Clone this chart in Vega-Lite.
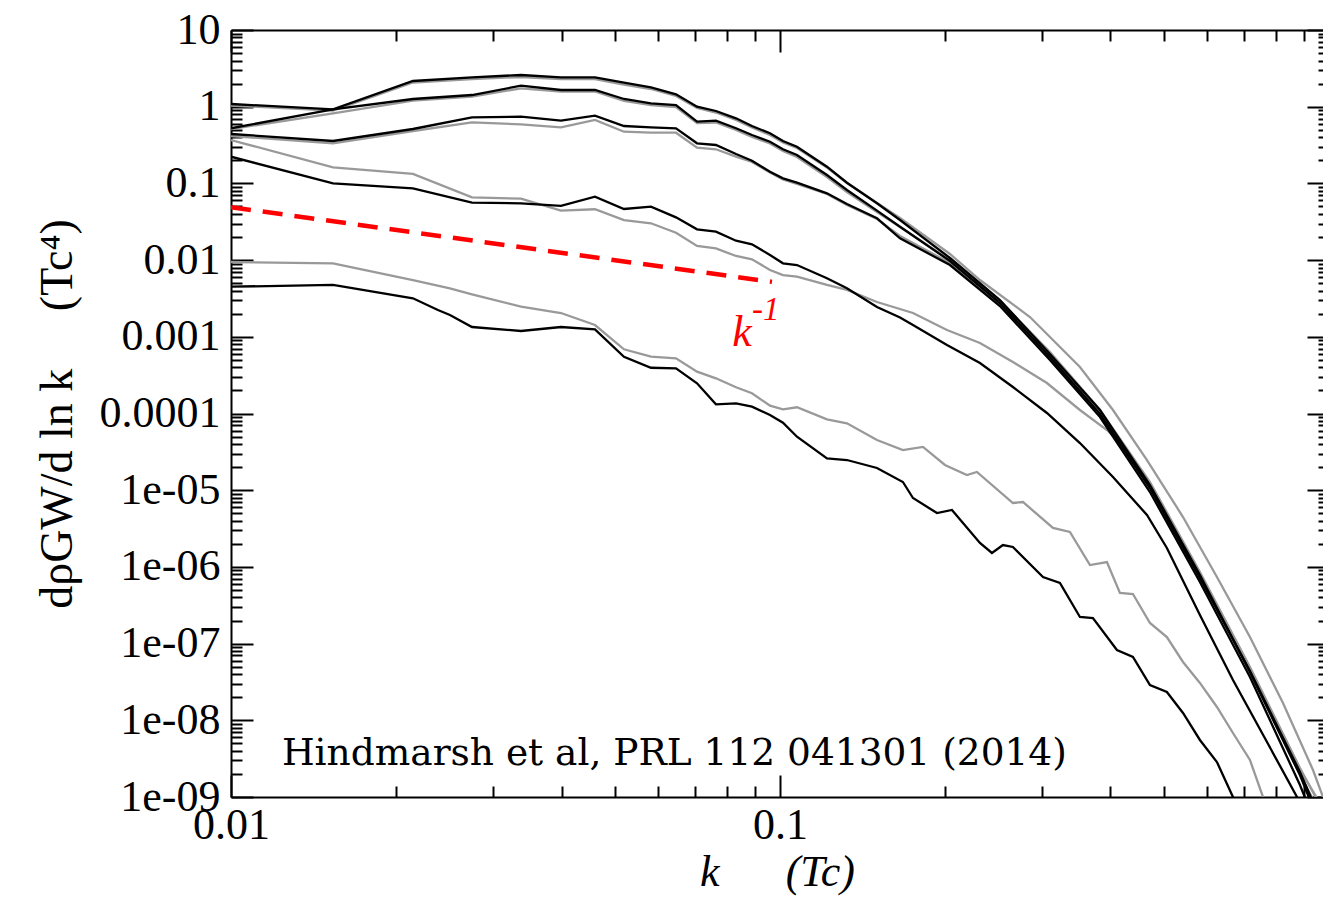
{
  "$schema": "https://vega.github.io/schema/vega-lite/v6.json",
  "width": 1092,
  "height": 767,
  "autosize": {"type": "none"},
  "padding": {"left": 231, "top": 30, "right": 0, "bottom": 102},
  "background": "white",
  "config": {"view": {"stroke": null}, "font": "Liberation Serif"},
  "datasets": {
    "curves": [
      {"series":"A-black","shade":"black","k":0.01,"rho":1.084},{"series":"A-black","shade":"black","k":0.01534,"rho":0.925},{"series":"A-black","shade":"black","k":0.02145,"rho":2.163},{"series":"A-black","shade":"black","k":0.02748,"rho":2.417},{"series":"A-black","shade":"black","k":0.03375,"rho":2.59},{"series":"A-black","shade":"black","k":0.03991,"rho":2.417},{"series":"A-black","shade":"black","k":0.04603,"rho":2.417},{"series":"A-black","shade":"black","k":0.05198,"rho":2.055},{"series":"A-black","shade":"black","k":0.05821,"rho":1.79},{"series":"A-black","shade":"black","k":0.06466,"rho":1.451},{"series":"A-black","shade":"black","k":0.07062,"rho":1.0},{"series":"A-black","shade":"black","k":0.07645,"rho":0.879},{"series":"A-black","shade":"black","k":0.08317,"rho":0.706},{"series":"A-black","shade":"black","k":0.08892,"rho":0.56},{"series":"A-black","shade":"black","k":0.0959,"rho":0.45},{"series":"A-black","shade":"black","k":0.10127,"rho":0.357},{"series":"A-black","shade":"black","k":0.10739,"rho":0.301},{"series":"A-black","shade":"black","k":0.1218,"rho":0.165},{"series":"A-black","shade":"black","k":0.13244,"rho":0.1021},{"series":"A-black","shade":"black","k":0.15022,"rho":0.055},{"series":"A-black","shade":"black","k":0.16546,"rho":0.0333},{"series":"A-black","shade":"black","k":0.20403,"rho":0.01065},{"series":"A-black","shade":"black","k":0.25159,"rho":0.003018},{"series":"A-black","shade":"black","k":0.31031,"rho":5.965e-4},{"series":"A-black","shade":"black","k":0.38282,"rho":1.111e-4},{"series":"A-black","shade":"black","k":0.47206,"rho":1.169e-5},{"series":"A-black","shade":"black","k":0.5821,"rho":7.84e-7},{"series":"A-black","shade":"black","k":0.71802,"rho":4.26e-8},{"series":"A-black","shade":"black","k":0.8856,"rho":1.935e-9},{"series":"A-black","shade":"black","k":0.96317,"rho":4.31e-10},
      {"series":"B-black","shade":"black","k":0.01,"rho":0.523},{"series":"B-black","shade":"black","k":0.01534,"rho":0.925},{"series":"B-black","shade":"black","k":0.02145,"rho":1.26},{"series":"B-black","shade":"black","k":0.02748,"rho":1.42},{"series":"B-black","shade":"black","k":0.03375,"rho":1.878},{"series":"B-black","shade":"black","k":0.03991,"rho":1.651},{"series":"B-black","shade":"black","k":0.04603,"rho":1.651},{"series":"B-black","shade":"black","k":0.05198,"rho":1.26},{"series":"B-black","shade":"black","k":0.05821,"rho":1.107},{"series":"B-black","shade":"black","k":0.06466,"rho":1.052},{"series":"B-black","shade":"black","k":0.07062,"rho":0.638},{"series":"B-black","shade":"black","k":0.07645,"rho":0.657},{"series":"B-black","shade":"black","k":0.08317,"rho":0.523},{"series":"B-black","shade":"black","k":0.08892,"rho":0.428},{"series":"B-black","shade":"black","k":0.0959,"rho":0.35},{"series":"B-black","shade":"black","k":0.10127,"rho":0.2784},{"series":"B-black","shade":"black","k":0.10739,"rho":0.2346},{"series":"B-black","shade":"black","k":0.1218,"rho":0.1287},{"series":"B-black","shade":"black","k":0.13244,"rho":0.082},{"series":"B-black","shade":"black","k":0.15022,"rho":0.0441},{"series":"B-black","shade":"black","k":0.16546,"rho":0.02726},{"series":"B-black","shade":"black","k":0.20403,"rho":0.00973},{"series":"B-black","shade":"black","k":0.25159,"rho":0.002758},{"series":"B-black","shade":"black","k":0.31031,"rho":5.453e-4},{"series":"B-black","shade":"black","k":0.38282,"rho":9.85e-5},{"series":"B-black","shade":"black","k":0.47206,"rho":1.068e-5},{"series":"B-black","shade":"black","k":0.5821,"rho":7.17e-7},{"series":"B-black","shade":"black","k":0.71802,"rho":4.39e-8},{"series":"B-black","shade":"black","k":0.8856,"rho":2.118e-9},{"series":"B-black","shade":"black","k":0.96317,"rho":5.32e-10},
      {"series":"C-black","shade":"black","k":0.01,"rho":0.4406},{"series":"C-black","shade":"black","k":0.01534,"rho":0.357},{"series":"C-black","shade":"black","k":0.02145,"rho":0.512},{"series":"C-black","shade":"black","k":0.02748,"rho":0.727},{"series":"C-black","shade":"black","k":0.03375,"rho":0.741},{"series":"C-black","shade":"black","k":0.03991,"rho":0.657},{"series":"C-black","shade":"black","k":0.04603,"rho":0.763},{"series":"C-black","shade":"black","k":0.05198,"rho":0.56},{"series":"C-black","shade":"black","k":0.05821,"rho":0.539},{"series":"C-black","shade":"black","k":0.06466,"rho":0.523},{"series":"C-black","shade":"black","k":0.07062,"rho":0.3333},{"series":"C-black","shade":"black","k":0.07645,"rho":0.3167},{"series":"C-black","shade":"black","k":0.08317,"rho":0.2416},{"series":"C-black","shade":"black","k":0.08892,"rho":0.1977},{"series":"C-black","shade":"black","k":0.0959,"rho":0.1421},{"series":"C-black","shade":"black","k":0.10127,"rho":0.1165},{"series":"C-black","shade":"black","k":0.10739,"rho":0.1021},{"series":"C-black","shade":"black","k":0.1218,"rho":0.0743},{"series":"C-black","shade":"black","k":0.13244,"rho":0.0539},{"series":"C-black","shade":"black","k":0.15022,"rho":0.0351},{"series":"C-black","shade":"black","k":0.16546,"rho":0.01924},{"series":"C-black","shade":"black","k":0.20403,"rho":0.00863},{"series":"C-black","shade":"black","k":0.25159,"rho":0.002521},{"series":"C-black","shade":"black","k":0.31031,"rho":4.98e-4},{"series":"C-black","shade":"black","k":0.38282,"rho":9.0e-5},{"series":"C-black","shade":"black","k":0.47206,"rho":9.47e-6},{"series":"C-black","shade":"black","k":0.5821,"rho":6.36e-7},{"series":"C-black","shade":"black","k":0.71802,"rho":3.67e-8},{"series":"C-black","shade":"black","k":0.8856,"rho":1.434e-9},{"series":"C-black","shade":"black","k":0.96317,"rho":3.2e-10},
      {"series":"A-gray","shade":"gray","k":0.01,"rho":1.036},{"series":"A-gray","shade":"gray","k":0.01534,"rho":0.892},{"series":"A-gray","shade":"gray","k":0.02145,"rho":2.068},{"series":"A-gray","shade":"gray","k":0.02748,"rho":2.297},{"series":"A-gray","shade":"gray","k":0.03375,"rho":2.439},{"series":"A-gray","shade":"gray","k":0.03991,"rho":2.297},{"series":"A-gray","shade":"gray","k":0.04603,"rho":2.297},{"series":"A-gray","shade":"gray","k":0.05198,"rho":1.947},{"series":"A-gray","shade":"gray","k":0.05821,"rho":1.701},{"series":"A-gray","shade":"gray","k":0.06466,"rho":1.379},{"series":"A-gray","shade":"gray","k":0.07062,"rho":0.962},{"series":"A-gray","shade":"gray","k":0.07645,"rho":0.84},{"series":"A-gray","shade":"gray","k":0.08317,"rho":0.671},{"series":"A-gray","shade":"gray","k":0.08892,"rho":0.536},{"series":"A-gray","shade":"gray","k":0.0959,"rho":0.428},{"series":"A-gray","shade":"gray","k":0.10127,"rho":0.3412},{"series":"A-gray","shade":"gray","k":0.10739,"rho":0.2894},{"series":"A-gray","shade":"gray","k":0.1218,"rho":0.1612},{"series":"A-gray","shade":"gray","k":0.13244,"rho":0.1012},{"series":"A-gray","shade":"gray","k":0.15022,"rho":0.0555},{"series":"A-gray","shade":"gray","k":0.16546,"rho":0.0354},{"series":"A-gray","shade":"gray","k":0.20403,"rho":0.01201},{"series":"A-gray","shade":"gray","k":0.23136,"rho":0.0055},{"series":"A-gray","shade":"gray","k":0.28536,"rho":0.001812},{"series":"A-gray","shade":"gray","k":0.3519,"rho":4.04e-4},{"series":"A-gray","shade":"gray","k":0.40423,"rho":1.111e-4},{"series":"A-gray","shade":"gray","k":0.4662,"rho":2.475e-5},{"series":"A-gray","shade":"gray","k":0.54225,"rho":4.47e-6},{"series":"A-gray","shade":"gray","k":0.62517,"rho":7.38e-7},{"series":"A-gray","shade":"gray","k":0.71802,"rho":1.219e-7},{"series":"A-gray","shade":"gray","k":0.82472,"rho":1.68e-8},{"series":"A-gray","shade":"gray","k":0.93534,"rho":2.249e-9},{"series":"A-gray","shade":"gray","k":0.97545,"rho":1e-9},
      {"series":"B-gray","shade":"gray","k":0.01,"rho":0.512},{"series":"B-gray","shade":"gray","k":0.01534,"rho":0.82},{"series":"B-gray","shade":"gray","k":0.02145,"rho":1.197},{"series":"B-gray","shade":"gray","k":0.02748,"rho":1.35},{"series":"B-gray","shade":"gray","k":0.03375,"rho":1.738},{"series":"B-gray","shade":"gray","k":0.03991,"rho":1.578},{"series":"B-gray","shade":"gray","k":0.04603,"rho":1.578},{"series":"B-gray","shade":"gray","k":0.05198,"rho":1.187},{"series":"B-gray","shade":"gray","k":0.05821,"rho":1.052},{"series":"B-gray","shade":"gray","k":0.06466,"rho":0.991},{"series":"B-gray","shade":"gray","k":0.07062,"rho":0.613},{"series":"B-gray","shade":"gray","k":0.07645,"rho":0.622},{"series":"B-gray","shade":"gray","k":0.08317,"rho":0.497},{"series":"B-gray","shade":"gray","k":0.08892,"rho":0.403},{"series":"B-gray","shade":"gray","k":0.0959,"rho":0.3313},{"series":"B-gray","shade":"gray","k":0.10127,"rho":0.2645},{"series":"B-gray","shade":"gray","k":0.10739,"rho":0.2209},{"series":"B-gray","shade":"gray","k":0.1218,"rho":0.1211},{"series":"B-gray","shade":"gray","k":0.13244,"rho":0.0772},{"series":"B-gray","shade":"gray","k":0.15022,"rho":0.0424},{"series":"B-gray","shade":"gray","k":0.16546,"rho":0.027},{"series":"B-gray","shade":"gray","k":0.20403,"rho":0.01003},{"series":"B-gray","shade":"gray","k":0.25159,"rho":0.00293},{"series":"B-gray","shade":"gray","k":0.31031,"rho":6.33e-4},{"series":"B-gray","shade":"gray","k":0.38282,"rho":1.111e-4},{"series":"B-gray","shade":"gray","k":0.47206,"rho":1.279e-5},{"series":"B-gray","shade":"gray","k":0.5821,"rho":8.58e-7},{"series":"B-gray","shade":"gray","k":0.71802,"rho":4.95e-8},{"series":"B-gray","shade":"gray","k":0.8856,"rho":2.39e-9},{"series":"B-gray","shade":"gray","k":0.96317,"rho":7.87e-10},
      {"series":"C-gray","shade":"gray","k":0.01,"rho":0.415},{"series":"C-gray","shade":"gray","k":0.01534,"rho":0.3333},{"series":"C-gray","shade":"gray","k":0.02145,"rho":0.482},{"series":"C-gray","shade":"gray","k":0.02748,"rho":0.626},{"series":"C-gray","shade":"gray","k":0.03375,"rho":0.589},{"series":"C-gray","shade":"gray","k":0.03991,"rho":0.539},{"series":"C-gray","shade":"gray","k":0.04603,"rho":0.671},{"series":"C-gray","shade":"gray","k":0.05198,"rho":0.472},{"series":"C-gray","shade":"gray","k":0.05821,"rho":0.458},{"series":"C-gray","shade":"gray","k":0.06466,"rho":0.458},{"series":"C-gray","shade":"gray","k":0.07062,"rho":0.292},{"series":"C-gray","shade":"gray","k":0.07645,"rho":0.2784},{"series":"C-gray","shade":"gray","k":0.08317,"rho":0.2229},{"series":"C-gray","shade":"gray","k":0.08892,"rho":0.1901},{"series":"C-gray","shade":"gray","k":0.0959,"rho":0.1388},{"series":"C-gray","shade":"gray","k":0.10127,"rho":0.1124},{"series":"C-gray","shade":"gray","k":0.10739,"rho":0.0982},{"series":"C-gray","shade":"gray","k":0.1218,"rho":0.0728},{"series":"C-gray","shade":"gray","k":0.13244,"rho":0.0523},{"series":"C-gray","shade":"gray","k":0.15022,"rho":0.0344},{"series":"C-gray","shade":"gray","k":0.16546,"rho":0.0206},{"series":"C-gray","shade":"gray","k":0.20403,"rho":0.00917},{"series":"C-gray","shade":"gray","k":0.25159,"rho":0.002677},{"series":"C-gray","shade":"gray","k":0.31031,"rho":5.453e-4},{"series":"C-gray","shade":"gray","k":0.38282,"rho":1.015e-4},{"series":"C-gray","shade":"gray","k":0.47206,"rho":1.101e-5},{"series":"C-gray","shade":"gray","k":0.5821,"rho":7.38e-7},{"series":"C-gray","shade":"gray","k":0.71802,"rho":4.26e-8},{"series":"C-gray","shade":"gray","k":0.8856,"rho":1.935e-9},{"series":"C-gray","shade":"gray","k":0.96317,"rho":6.37e-10},
      {"series":"D-gray","shade":"gray","k":0.01,"rho":0.368},{"series":"D-gray","shade":"gray","k":0.01534,"rho":0.1622},{"series":"D-gray","shade":"gray","k":0.02145,"rho":0.1327},{"series":"D-gray","shade":"gray","k":0.02748,"rho":0.0659},{"series":"D-gray","shade":"gray","k":0.03375,"rho":0.0632},{"series":"D-gray","shade":"gray","k":0.03991,"rho":0.0441},{"series":"D-gray","shade":"gray","k":0.04603,"rho":0.046},{"series":"D-gray","shade":"gray","k":0.05198,"rho":0.0333},{"series":"D-gray","shade":"gray","k":0.05821,"rho":0.0302},{"series":"D-gray","shade":"gray","k":0.06466,"rho":0.02277},{"series":"D-gray","shade":"gray","k":0.07062,"rho":0.01527},{"series":"D-gray","shade":"gray","k":0.07645,"rho":0.01425},{"series":"D-gray","shade":"gray","k":0.08317,"rho":0.01131},{"series":"D-gray","shade":"gray","k":0.08892,"rho":0.01024},{"series":"D-gray","shade":"gray","k":0.0959,"rho":0.00743},{"series":"D-gray","shade":"gray","k":0.10127,"rho":0.00639},{"series":"D-gray","shade":"gray","k":0.10739,"rho":0.00607},{"series":"D-gray","shade":"gray","k":0.1218,"rho":0.00474},{"series":"D-gray","shade":"gray","k":0.13244,"rho":0.00408},{"series":"D-gray","shade":"gray","k":0.15022,"rho":0.002843},{"series":"D-gray","shade":"gray","k":0.1747,"rho":0.002043},{"series":"D-gray","shade":"gray","k":0.20148,"rho":0.001227},{"series":"D-gray","shade":"gray","k":0.23136,"rho":8.3e-4},{"series":"D-gray","shade":"gray","k":0.26568,"rho":4.69e-4},{"series":"D-gray","shade":"gray","k":0.30643,"rho":2.498e-4},{"series":"D-gray","shade":"gray","k":0.3519,"rho":1.111e-4},{"series":"D-gray","shade":"gray","k":0.39409,"rho":6.09e-5},{"series":"D-gray","shade":"gray","k":0.4162,"rho":4.12e-5},{"series":"D-gray","shade":"gray","k":0.47206,"rho":1.101e-5},{"series":"D-gray","shade":"gray","k":0.5821,"rho":7.38e-7},{"series":"D-gray","shade":"gray","k":0.71802,"rho":4.52e-8},{"series":"D-gray","shade":"gray","k":0.8856,"rho":2.249e-9},{"series":"D-gray","shade":"gray","k":0.96317,"rho":8.35e-10},
      {"series":"D-black","shade":"black","k":0.01,"rho":0.2229},{"series":"D-black","shade":"black","k":0.01534,"rho":0.1003},{"series":"D-black","shade":"black","k":0.02145,"rho":0.0863},{"series":"D-black","shade":"black","k":0.02748,"rho":0.056},{"series":"D-black","shade":"black","k":0.03375,"rho":0.055},{"series":"D-black","shade":"black","k":0.03991,"rho":0.051},{"series":"D-black","shade":"black","k":0.04603,"rho":0.0671},{"series":"D-black","shade":"black","k":0.05198,"rho":0.0464},{"series":"D-black","shade":"black","k":0.05821,"rho":0.0497},{"series":"D-black","shade":"black","k":0.06466,"rho":0.0361},{"series":"D-black","shade":"black","k":0.07062,"rho":0.02521},{"series":"D-black","shade":"black","k":0.07645,"rho":0.02346},{"series":"D-black","shade":"black","k":0.08317,"rho":0.0179},{"series":"D-black","shade":"black","k":0.08892,"rho":0.01607},{"series":"D-black","shade":"black","k":0.0959,"rho":0.01165},{"series":"D-black","shade":"black","k":0.10127,"rho":0.00909},{"series":"D-black","shade":"black","k":0.10739,"rho":0.00863},{"series":"D-black","shade":"black","k":0.1218,"rho":0.00579},{"series":"D-black","shade":"black","k":0.13244,"rho":0.00429},{"series":"D-black","shade":"black","k":0.15022,"rho":0.002446},{"series":"D-black","shade":"black","k":0.16546,"rho":0.001785},{"series":"D-black","shade":"black","k":0.1747,"rho":0.001425},{"series":"D-black","shade":"black","k":0.20148,"rho":7.82e-4},{"series":"D-black","shade":"black","k":0.23136,"rho":4.55e-4},{"series":"D-black","shade":"black","k":0.26568,"rho":2.215e-4},{"series":"D-black","shade":"black","k":0.30643,"rho":1.015e-4},{"series":"D-black","shade":"black","k":0.3519,"rho":4.12e-5},{"series":"D-black","shade":"black","k":0.40423,"rho":1.487e-5},{"series":"D-black","shade":"black","k":0.4662,"rho":4.75e-6},{"series":"D-black","shade":"black","k":0.50677,"rho":1.764e-6},{"series":"D-black","shade":"black","k":0.5821,"rho":2.36e-7},{"series":"D-black","shade":"black","k":0.66865,"rho":3.35e-8},{"series":"D-black","shade":"black","k":0.77124,"rho":5.21e-9},{"series":"D-black","shade":"black","k":0.87453,"rho":1e-9},{"series":"D-black","shade":"black","k":0.92,"rho":3.2e-10},
      {"series":"E-gray","shade":"gray","k":0.01,"rho":0.00945},{"series":"E-gray","shade":"gray","k":0.01534,"rho":0.00909},{"series":"E-gray","shade":"gray","k":0.02145,"rho":0.0055},{"series":"E-gray","shade":"gray","k":0.02505,"rho":0.00429},{"series":"E-gray","shade":"gray","k":0.02748,"rho":0.00358},{"series":"E-gray","shade":"gray","k":0.03375,"rho":0.00247},{"series":"E-gray","shade":"gray","k":0.03991,"rho":0.002043},{"series":"E-gray","shade":"gray","k":0.04603,"rho":0.001425},{"series":"E-gray","shade":"gray","k":0.05198,"rho":6.87e-4},{"series":"E-gray","shade":"gray","k":0.05821,"rho":5.5e-4},{"series":"E-gray","shade":"gray","k":0.06466,"rho":5.24e-4},{"series":"E-gray","shade":"gray","k":0.07062,"rho":3.51e-4},{"series":"E-gray","shade":"gray","k":0.07645,"rho":2.877e-4},{"series":"E-gray","shade":"gray","k":0.08317,"rho":2.196e-4},{"series":"E-gray","shade":"gray","k":0.08892,"rho":1.834e-4},{"series":"E-gray","shade":"gray","k":0.0959,"rho":1.264e-4},{"series":"E-gray","shade":"gray","k":0.10127,"rho":1.135e-4},{"series":"E-gray","shade":"gray","k":0.10739,"rho":1.205e-4},{"series":"E-gray","shade":"gray","k":0.1218,"rho":8.4e-5},{"series":"E-gray","shade":"gray","k":0.13244,"rho":7.45e-5},{"series":"E-gray","shade":"gray","k":0.15022,"rho":4.51e-5},{"series":"E-gray","shade":"gray","k":0.16749,"rho":3.34e-5},{"series":"E-gray","shade":"gray","k":0.18218,"rho":3.66e-5},{"series":"E-gray","shade":"gray","k":0.19978,"rho":2.132e-5},{"series":"E-gray","shade":"gray","k":0.21903,"rho":1.578e-5},{"series":"E-gray","shade":"gray","k":0.22845,"rho":1.727e-5},{"series":"E-gray","shade":"gray","k":0.26568,"rho":6.81e-6},{"series":"E-gray","shade":"gray","k":0.27708,"rho":7.02e-6},{"series":"E-gray","shade":"gray","k":0.3143,"rho":3.22e-6},{"series":"E-gray","shade":"gray","k":0.33744,"rho":2.851e-6},{"series":"E-gray","shade":"gray","k":0.36702,"rho":1.058e-6},{"series":"E-gray","shade":"gray","k":0.39409,"rho":1.158e-6},{"series":"E-gray","shade":"gray","k":0.4162,"rho":4.57e-7},{"series":"E-gray","shade":"gray","k":0.43954,"rho":4.43e-7},{"series":"E-gray","shade":"gray","k":0.47206,"rho":1.856e-7},{"series":"E-gray","shade":"gray","k":0.50677,"rho":1.219e-7},{"series":"E-gray","shade":"gray","k":0.54225,"rho":5.76e-8},{"series":"E-gray","shade":"gray","k":0.5821,"rho":3.07e-8},{"series":"E-gray","shade":"gray","k":0.62517,"rho":1.491e-8},{"series":"E-gray","shade":"gray","k":0.66865,"rho":6.83e-9},{"series":"E-gray","shade":"gray","k":0.71802,"rho":3.04e-9},{"series":"E-gray","shade":"gray","k":0.75836,"rho":1e-9},{"series":"E-gray","shade":"gray","k":0.81434,"rho":2.75e-10},
      {"series":"E-black","shade":"black","k":0.01,"rho":0.0045},{"series":"E-black","shade":"black","k":0.01534,"rho":0.00474},{"series":"E-black","shade":"black","k":0.02145,"rho":0.003178},{"series":"E-black","shade":"black","k":0.02382,"rho":0.002236},{"series":"E-black","shade":"black","k":0.02505,"rho":0.001924},{"series":"E-black","shade":"black","k":0.02748,"rho":0.001342},{"series":"E-black","shade":"black","k":0.03375,"rho":0.00119},{"series":"E-black","shade":"black","k":0.03991,"rho":0.001342},{"series":"E-black","shade":"black","k":0.04603,"rho":0.001252},{"series":"E-black","shade":"black","k":0.05198,"rho":5.5e-4},{"series":"E-black","shade":"black","k":0.05821,"rho":3.95e-4},{"series":"E-black","shade":"black","k":0.06466,"rho":3.88e-4},{"series":"E-black","shade":"black","k":0.07062,"rho":2.475e-4},{"series":"E-black","shade":"black","k":0.07645,"rho":1.318e-4},{"series":"E-black","shade":"black","k":0.08317,"rho":1.358e-4},{"series":"E-black","shade":"black","k":0.08892,"rho":1.227e-4},{"series":"E-black","shade":"black","k":0.0959,"rho":9.56e-5},{"series":"E-black","shade":"black","k":0.10127,"rho":7.59e-5},{"series":"E-black","shade":"black","k":0.10739,"rho":4.98e-5},{"series":"E-black","shade":"black","k":0.1218,"rho":2.604e-5},{"series":"E-black","shade":"black","k":0.13244,"rho":2.475e-5},{"series":"E-black","shade":"black","k":0.15022,"rho":1.949e-5},{"series":"E-black","shade":"black","k":0.16749,"rho":1.279e-5},{"series":"E-black","shade":"black","k":0.1747,"rho":7.91e-6},{"series":"E-black","shade":"black","k":0.1932,"rho":5.04e-6},{"series":"E-black","shade":"black","k":0.20574,"rho":5.52e-6},{"series":"E-black","shade":"black","k":0.23136,"rho":2.05e-6},{"series":"E-black","shade":"black","k":0.2433,"rho":1.518e-6},{"series":"E-black","shade":"black","k":0.25478,"rho":1.929e-6},{"series":"E-black","shade":"black","k":0.26568,"rho":1.818e-6},{"series":"E-black","shade":"black","k":0.3014,"rho":7.38e-7},{"series":"E-black","shade":"black","k":0.32359,"rho":6.17e-7},{"series":"E-black","shade":"black","k":0.3519,"rho":2.222e-7},{"series":"E-black","shade":"black","k":0.37163,"rho":2.157e-7},{"series":"E-black","shade":"black","k":0.41098,"rho":8.25e-8},{"series":"E-black","shade":"black","k":0.43954,"rho":6.69e-8},{"series":"E-black","shade":"black","k":0.47206,"rho":2.884e-8},{"series":"E-black","shade":"black","k":0.50677,"rho":2.339e-8},{"series":"E-black","shade":"black","k":0.54225,"rho":1.245e-8},{"series":"E-black","shade":"black","k":0.5821,"rho":5.54e-9},{"series":"E-black","shade":"black","k":0.62517,"rho":2.86e-9},{"series":"E-black","shade":"black","k":0.66865,"rho":1e-9},{"series":"E-black","shade":"black","k":0.71802,"rho":3.2e-10}
    ],
    "slope": [{"k": 0.01, "rho": 0.049}, {"k": 0.0967, "rho": 0.0052}],
    "notes": [{"label": "k", "k": 0.0853, "rho": 0.00076}, {"label": "-1", "k": 0.0889, "rho": 0.00166}, {"label": "Hindmarsh et al, PRL 112 041301 (2014)", "k": 0.01238, "rho": 2.61e-9}]
  },
  "layer": [
    {
      "data": {"name": "curves"},
      "transform": [{"filter": "datum.shade === 'gray'"}],
      "mark": {"type": "line", "stroke": "#999999", "strokeWidth": 2.3, "clip": true},
      "encoding": {
        "x": {"field": "k", "type": "quantitative", "scale": {"type": "log", "domain": [0.01, 0.97545], "nice": false},
          "axis": {"orient": "bottom", "values": [0.01, 0.1], "format": "~g", "ticks": false, "domain": false, "grid": false,
            "labelFont": "Liberation Serif", "labelFontSize": 44, "labelColor": "black", "labelPadding": 6, "labelFlush": false, "labelOverlap": false,
            "title": "k\u00a0\u00a0\u00a0\u00a0\u00a0\u00a0(Tc)", "titleFont": "Liberation Serif", "titleFontSize": 44, "titleFontWeight": "normal", "titleFontStyle": "italic", "titleColor": "black", "titlePadding": 3}},
        "y": {"field": "rho", "type": "quantitative", "scale": {"type": "log", "domain": [1e-9, 10], "nice": false},
          "axis": {"orient": "left", "values": [10, 1, 0.1, 0.01, 0.001, 0.0001, 1e-5, 1e-6, 1e-7, 1e-8, 1e-9], "ticks": false, "domain": false, "grid": false,
            "labelExpr": "datum.value < 5e-5 ? '1e-0' + format(-log(datum.value)/LN10, '.0f') : format(datum.value, '~g')",
            "labelFont": "Liberation Serif", "labelFontSize": 44, "labelColor": "black", "labelPadding": 11, "labelFlush": false, "labelOverlap": false,
            "title": "dρGW/d ln k\u00a0\u00a0\u00a0\u00a0\u00a0(Tc⁴)", "titleFont": "Liberation Serif", "titleFontSize": 46, "titleFontWeight": "normal", "titleColor": "black", "titlePadding": 18}},
        "detail": {"field": "series"}
      }
    },
    {
      "data": {"name": "curves"},
      "transform": [{"filter": "datum.shade === 'black'"}],
      "mark": {"type": "line", "stroke": "black", "strokeWidth": 2.3, "clip": true},
      "encoding": {
        "x": {"field": "k", "type": "quantitative", "scale": {"type": "log", "domain": [0.01, 0.97545], "nice": false}, "axis": null},
        "y": {"field": "rho", "type": "quantitative", "scale": {"type": "log", "domain": [1e-9, 10], "nice": false}, "axis": null},
        "detail": {"field": "series"}
      }
    },
    {
      "data": {"name": "slope"},
      "mark": {"type": "line", "stroke": "#ff0000", "strokeWidth": 4.5, "strokeDash": [20, 12], "clip": true},
      "encoding": {
        "x": {"field": "k", "type": "quantitative", "scale": {"type": "log", "domain": [0.01, 0.97545], "nice": false},
          "axis": {"orient": "bottom", "values": [0.01, 0.1], "labels": false, "ticks": true, "tickSize": -22, "tickWidth": 2, "tickColor": "black", "domain": true, "domainWidth": 2, "domainColor": "black", "grid": false, "title": null}},
        "y": {"field": "rho", "type": "quantitative", "scale": {"type": "log", "domain": [1e-9, 10], "nice": false},
          "axis": {"orient": "left", "values": [10, 1, 0.1, 0.01, 0.001, 0.0001, 1e-5, 1e-6, 1e-7, 1e-8, 1e-9], "labels": false, "ticks": true, "tickSize": -22, "tickWidth": 2, "tickColor": "black", "domain": true, "domainWidth": 2, "domainColor": "black", "grid": false, "title": null}}
      }
    },
    {
      "data": {"name": "notes"},
      "transform": [{"filter": "datum.label === 'k'"}],
      "mark": {"type": "text", "color": "#ff0000", "font": "Liberation Serif", "fontSize": 44, "fontStyle": "italic", "align": "center", "baseline": "alphabetic"},
      "encoding": {
        "text": {"field": "label"},
        "x": {"field": "k", "type": "quantitative", "scale": {"type": "log", "domain": [0.01, 0.97545], "nice": false},
          "axis": {"orient": "bottom", "values": [0.02, 0.03, 0.04, 0.05, 0.06, 0.07, 0.08, 0.09, 0.2, 0.3, 0.4, 0.5, 0.6, 0.7, 0.8, 0.9], "labels": false, "ticks": true, "tickSize": -11, "tickWidth": 2, "tickColor": "black", "domain": false, "grid": false, "title": null}},
        "y": {"field": "rho", "type": "quantitative", "scale": {"type": "log", "domain": [1e-9, 10], "nice": false},
          "axis": {"orient": "left", "values": [2e-9,3e-9,4e-9,5e-9,6e-9,7e-9,8e-9,9e-9,2e-8,3e-8,4e-8,5e-8,6e-8,7e-8,8e-8,9e-8,2e-7,3e-7,4e-7,5e-7,6e-7,7e-7,8e-7,9e-7,2e-6,3e-6,4e-6,5e-6,6e-6,7e-6,8e-6,9e-6,2e-5,3e-5,4e-5,5e-5,6e-5,7e-5,8e-5,9e-5,0.0002,0.0003,0.0004,0.0005,0.0006,0.0007,0.0008,0.0009,0.002,0.003,0.004,0.005,0.006,0.007,0.008,0.009,0.02,0.03,0.04,0.05,0.06,0.07,0.08,0.09,0.2,0.3,0.4,0.5,0.6,0.7,0.8,0.9,2,3,4,5,6,7,8,9], "labels": false, "ticks": true, "tickSize": -11, "tickWidth": 2, "tickColor": "black", "domain": false, "grid": false, "title": null}}
      }
    },
    {
      "data": {"name": "notes"},
      "transform": [{"filter": "datum.label === '-1'"}],
      "mark": {"type": "text", "color": "#ff0000", "font": "Liberation Serif", "fontSize": 33, "fontStyle": "italic", "align": "left", "baseline": "alphabetic"},
      "encoding": {
        "text": {"field": "label"},
        "x": {"field": "k", "type": "quantitative", "scale": {"type": "log", "domain": [0.01, 0.97545], "nice": false},
          "axis": {"orient": "top", "values": [0.01, 0.1], "labels": false, "ticks": true, "tickSize": -22, "tickWidth": 2, "tickColor": "black", "domain": true, "domainWidth": 2, "domainColor": "black", "grid": false, "title": null}},
        "y": {"field": "rho", "type": "quantitative", "scale": {"type": "log", "domain": [1e-9, 10], "nice": false},
          "axis": {"orient": "right", "values": [10, 1, 0.1, 0.01, 0.001, 0.0001, 1e-5, 1e-6, 1e-7, 1e-8, 1e-9], "labels": false, "ticks": true, "tickSize": -16, "tickWidth": 2, "tickColor": "black", "domain": false, "grid": false, "title": null}}
      }
    },
    {
      "data": {"name": "notes"},
      "transform": [{"filter": "length(datum.label) > 5"}],
      "mark": {"type": "text", "color": "black", "font": "DejaVu Serif", "fontSize": 37.5, "align": "left", "baseline": "alphabetic"},
      "encoding": {
        "text": {"field": "label"},
        "x": {"field": "k", "type": "quantitative", "scale": {"type": "log", "domain": [0.01, 0.97545], "nice": false},
          "axis": {"orient": "top", "values": [0.02, 0.03, 0.04, 0.05, 0.06, 0.07, 0.08, 0.09, 0.2, 0.3, 0.4, 0.5, 0.6, 0.7, 0.8, 0.9], "labels": false, "ticks": true, "tickSize": -11, "tickWidth": 2, "tickColor": "black", "domain": false, "grid": false, "title": null}},
        "y": {"field": "rho", "type": "quantitative", "scale": {"type": "log", "domain": [1e-9, 10], "nice": false},
          "axis": {"orient": "right", "values": [2e-9,3e-9,4e-9,5e-9,6e-9,7e-9,8e-9,9e-9,2e-8,3e-8,4e-8,5e-8,6e-8,7e-8,8e-8,9e-8,2e-7,3e-7,4e-7,5e-7,6e-7,7e-7,8e-7,9e-7,2e-6,3e-6,4e-6,5e-6,6e-6,7e-6,8e-6,9e-6,2e-5,3e-5,4e-5,5e-5,6e-5,7e-5,8e-5,9e-5,0.0002,0.0003,0.0004,0.0005,0.0006,0.0007,0.0008,0.0009,0.002,0.003,0.004,0.005,0.006,0.007,0.008,0.009,0.02,0.03,0.04,0.05,0.06,0.07,0.08,0.09,0.2,0.3,0.4,0.5,0.6,0.7,0.8,0.9,2,3,4,5,6,7,8,9], "labels": false, "ticks": true, "tickSize": -5, "tickWidth": 2, "tickColor": "black", "domain": false, "grid": false, "title": null}}
      }
    }
  ],
  "resolve": {"axis": {"x": "independent", "y": "independent"}}
}
